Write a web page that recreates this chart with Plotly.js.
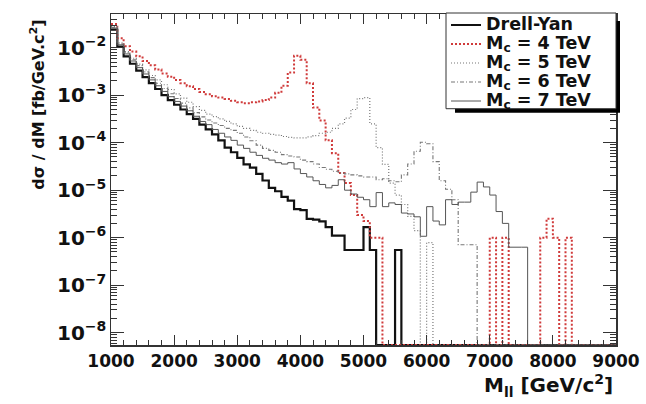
<!DOCTYPE html>
<html>
<head>
<meta charset="utf-8">
<script src="https://cdn.plot.ly/plotly-3.0.1.min.js"></script>
<style>html,body{margin:0;padding:0;background:#fff;}#chart{width:646px;height:404px;}</style>
</head>
<body>
<div id="chart"></div>
<script>
// Bin lower edges (GeV/c^2), 100 GeV wide bins
var binLow = [1000,1100,1200,1300,1400,1500,1600,1700,1800,1900,
              2000,2100,2200,2300,2400,2500,2600,2700,2800,2900,
              3000,3100,3200,3300,3400,3500,3600,3700,3800,3900,
              4000,4100,4200,4300,4400,4500,4600,4700,4800,4900,
              5000,5100,5200,5300,5400,5500,5600,5700,5800,5900,
              6000,6100,6200,6300,6400,6500,6600,6700,6800,6900,
              7000,7100,7200,7300,7400,7500,7600,7700,7800,7900,
              8000,8100,8200,8300,8400,8500,8600,8700,8800,8900];
var lastEdge = 9000;

var drellYan = [2.4e-2,1.05e-2,6.6e-3,4.6e-3,3.3e-3,2.4e-3,1.8e-3,1.35e-3,1.0e-3,7.9e-4,
                6.3e-4,5.0e-4,4.0e-4,3.16e-4,2.4e-4,1.9e-4,1.5e-4,1.12e-4,7.9e-5,6.3e-5,
                4.8e-5,3.5e-5,3.0e-5,2.2e-5,1.6e-5,1.12e-5,9.5e-6,7.2e-6,6.0e-6,4.0e-6,
                3.8e-6,2.5e-6,2.4e-6,2.2e-6,1.66e-6,1.1e-6,1.1e-6,5.5e-7,5.5e-7,5.5e-7,
                1.66e-6,5.5e-7,0,0,0,5.5e-7,0,0,0,0,
                0,0,0,0,0,0,0,0,0,0,
                0,0,0,0,0,0,0,0,0,0,
                0,0,0,0,0,0,0,0,0,0];

var mc4 = [3.16e-2,1.58e-2,1.07e-2,8.3e-3,6.6e-3,5.25e-3,4.27e-3,3.47e-3,2.88e-3,2.45e-3,
           2.09e-3,1.78e-3,1.55e-3,1.35e-3,1.17e-3,1.05e-3,9.5e-4,8.9e-4,8.3e-4,7.6e-4,
           7.1e-4,6.8e-4,7.1e-4,7.4e-4,7.9e-4,8.9e-4,1.12e-3,1.58e-3,3.0e-3,6.8e-3,
           5.6e-3,1.78e-3,5.5e-4,2.95e-4,1.12e-4,6.0e-5,2.3e-5,1.41e-5,7.9e-6,3.0e-6,
           2.24e-6,1.0e-6,1.0e-6,0,0,0,0,0,0,0,
           0,0,0,0,0,0,0,0,0,0,
           1.0e-6,0,1.0e-6,0,0,0,0,0,1.0e-6,2.5e-6,
           1.0e-6,0,1.0e-6,0,0,0,0,0,0,0];

var mc5 = [2.8e-2,1.26e-2,8.3e-3,6.0e-3,4.5e-3,3.4e-3,2.6e-3,2.1e-3,1.66e-3,1.32e-3,
           1.07e-3,8.7e-4,7.1e-4,5.75e-4,4.8e-4,4.0e-4,3.55e-4,3.16e-4,2.8e-4,2.5e-4,
           2.2e-4,2.0e-4,1.82e-4,1.66e-4,1.58e-4,1.5e-4,1.45e-4,1.35e-4,1.3e-4,1.26e-4,
           1.26e-4,1.32e-4,1.41e-4,1.58e-4,1.66e-4,2.0e-4,2.5e-4,3.3e-4,5.0e-4,8.5e-4,
           8.9e-4,2.5e-4,7.9e-5,3.5e-5,1.41e-5,7.9e-6,5.0e-6,2.8e-6,1.41e-6,0,
           7.9e-7,0,0,0,0,0,0,0,0,0,
           0,0,0,0,0,0,0,0,0,0,
           0,0,0,0,0,0,0,0,0,0];

var mc6 = [2.7e-2,1.2e-2,7.9e-3,5.6e-3,4.2e-3,3.1e-3,2.35e-3,1.78e-3,1.38e-3,1.07e-3,
           8.5e-4,6.8e-4,5.4e-4,4.3e-4,3.5e-4,3.0e-4,2.6e-4,2.3e-4,2.0e-4,1.82e-4,
           1.58e-4,1.32e-4,1.1e-4,8.9e-5,7.6e-5,6.9e-5,6.3e-5,5.6e-5,5.25e-5,5.0e-5,
           4.3e-5,4.0e-5,3.55e-5,3.0e-5,2.75e-5,2.5e-5,2.3e-5,2.2e-5,2.1e-5,2.0e-5,
           1.9e-5,1.9e-5,1.66e-5,1.74e-5,1.58e-5,1.5e-5,2.1e-5,3.55e-5,6.6e-5,1.02e-4,
           9.5e-5,4.0e-5,1.58e-5,1.05e-5,6.3e-6,7.1e-7,7.1e-7,7.1e-7,0,0,
           0,0,0,0,0,0,0,0,0,0,
           0,0,0,0,0,0,0,0,0,0];

var mc7 = [2.6e-2,1.15e-2,7.4e-3,5.25e-3,3.8e-3,2.8e-3,2.1e-3,1.58e-3,1.2e-3,9.3e-4,
           7.4e-4,5.9e-4,4.7e-4,3.6e-4,2.8e-4,2.4e-4,1.9e-4,1.58e-4,1.32e-4,1.12e-4,
           8.9e-5,7.6e-5,6.3e-5,5.4e-5,4.7e-5,4.3e-5,3.8e-5,3.55e-5,3.8e-5,2.8e-5,
           2.24e-5,1.9e-5,1.58e-5,1.32e-5,1.12e-5,1.26e-5,1.66e-5,1.0e-5,8.3e-6,7.1e-6,
           6.3e-6,4.5e-6,8.9e-6,4.5e-6,5.4e-6,5.0e-6,3.3e-6,3.16e-6,2.75e-6,1.07e-6,
           4.5e-6,2.24e-6,1.86e-6,6.3e-6,5.0e-6,5.6e-6,5.6e-6,9.1e-6,1.48e-5,1.17e-5,
           7.9e-6,3.55e-6,2.0e-6,6.3e-7,6.3e-7,6.3e-7,0,0,0,0,
           0,0,0,0,0,0,0,0,0,0];

var seriesNames = ['Drell-Yan',
                   'M<sub>c</sub> = 4 TeV',
                   'M<sub>c</sub> = 5 TeV',
                   'M<sub>c</sub> = 6 TeV',
                   'M<sub>c</sub> = 7 TeV'];
var xTickVals = [1000,2000,3000,4000,5000,6000,7000,8000,9000];

var yLogRange = [-8.26, -1.29];
var floorVal = Math.pow(10, yLogRange[0]);

function histTrace(vals, name, line) {
  var x = binLow.concat([lastEdge]);
  var y = vals.map(function (v) { return v > 0 ? v : floorVal; });
  y.push(y[y.length - 1]);
  return {
    x: x, y: y, type: 'scatter', mode: 'lines',
    name: '<span style="font-size:17.5px">' + name + '</span>',
    line: Object.assign({shape: 'hv'}, line),
    hoverinfo: 'skip'
  };
}

var traces = [
  histTrace(drellYan, seriesNames[0], {color: '#111111', width: 2.2}),
  histTrace(mc4, seriesNames[1], {color: '#d03a3a', width: 2, dash: '2px,2px'}),
  histTrace(mc5, seriesNames[2], {color: '#777777', width: 1.2, dash: '1px,2px'}),
  histTrace(mc6, seriesNames[3], {color: '#777777', width: 1.1, dash: '4px,2px,1px,2px'}),
  histTrace(mc7, seriesNames[4], {color: '#555555', width: 1})
];

var L = 111, R = 616, T = 13, B = 345;
var W = R - L, H = B - T;
function px(x) { return (x - L) / W; }
function py(y) { return (B - y) / H; }

// legend frame (pixels) with a ROOT-style drop shadow
var legLeft = 446, legRight = 616, legTop = 12, legBottom = 108, shadow = 4;

var layout = {
  width: 646, height: 404,
  margin: {l: L, r: 646 - R, t: T, b: 404 - B, pad: 0},
  paper_bgcolor: '#ffffff', plot_bgcolor: '#ffffff',
  showlegend: true,
  legend: {
    x: px(legLeft), y: py(legTop - 1.5), xanchor: 'left', yanchor: 'top',
    bgcolor: 'rgba(0,0,0,0)', borderwidth: 0,
    font: {family: 'DejaVu Sans', size: 11.8, color: '#111111', weight: 'bold'},
    tracegroupgap: 0, itemwidth: 30
  },
  xaxis: {
    type: 'linear', range: [1000, 9000],
    tickmode: 'array', tickvals: xTickVals,
    ticks: 'inside', ticklen: 10, tickwidth: 1, tickcolor: '#333',
    minor: {dtick: 200, tick0: 1000, ticks: 'inside', ticklen: 5, tickcolor: '#333', showgrid: false},
    showline: true, linecolor: '#333', linewidth: 1.5, mirror: 'ticks',
    showgrid: false, zeroline: false,
    tickfont: {family: 'DejaVu Sans', size: 17, color: '#111', weight: 'bold'}
  },
  yaxis: {
    type: 'log', range: yLogRange,
    tickmode: 'linear', tick0: 0, dtick: 1, exponentformat: 'power',
    ticks: 'inside', ticklen: 13, tickwidth: 1, tickcolor: '#333',
    minor: {dtick: 'D1', ticks: 'inside', ticklen: 6, tickcolor: '#333', showgrid: false},
    showline: true, linecolor: '#333', linewidth: 1.5, mirror: 'ticks',
    showgrid: false, zeroline: false,
    tickfont: {family: 'DejaVu Sans', size: 16, color: '#111', weight: 'bold'}
  },
  annotations: [
    {xref: 'paper', yref: 'paper', x: px(38), y: py(104), xanchor: 'center', yanchor: 'middle',
     textangle: -90, showarrow: false,
     text: '<b>d\u03c3 / dM [fb/GeV.c<sup>2</sup>]</b>',
     font: {family: 'DejaVu Sans', size: 16, color: '#111'}},
    {xref: 'paper', yref: 'paper', x: px(615), y: py(386), xanchor: 'right', yanchor: 'middle',
     showarrow: false,
     text: '<b>M<sub>ll</sub> [GeV/c<sup>2</sup>]</b>',
     font: {family: 'DejaVu Sans', size: 20, color: '#111'}}
  ],
  shapes: [
    {type: 'rect', xref: 'paper', yref: 'paper', layer: 'above',
     x0: px(legLeft + shadow + 5), x1: px(legRight + shadow), y0: py(legBottom + shadow), y1: py(legTop + shadow + 4),
     fillcolor: '#000', line: {width: 0}},
    {type: 'rect', xref: 'paper', yref: 'paper', layer: 'above',
     x0: px(legLeft), x1: px(legRight), y0: py(legBottom), y1: py(legTop),
     fillcolor: '#ffffff', line: {color: '#333333', width: 1}}
  ]
};

Plotly.newPlot('chart', traces, layout, {displayModeBar: false, staticPlot: true});
</script>
</body>
</html>
